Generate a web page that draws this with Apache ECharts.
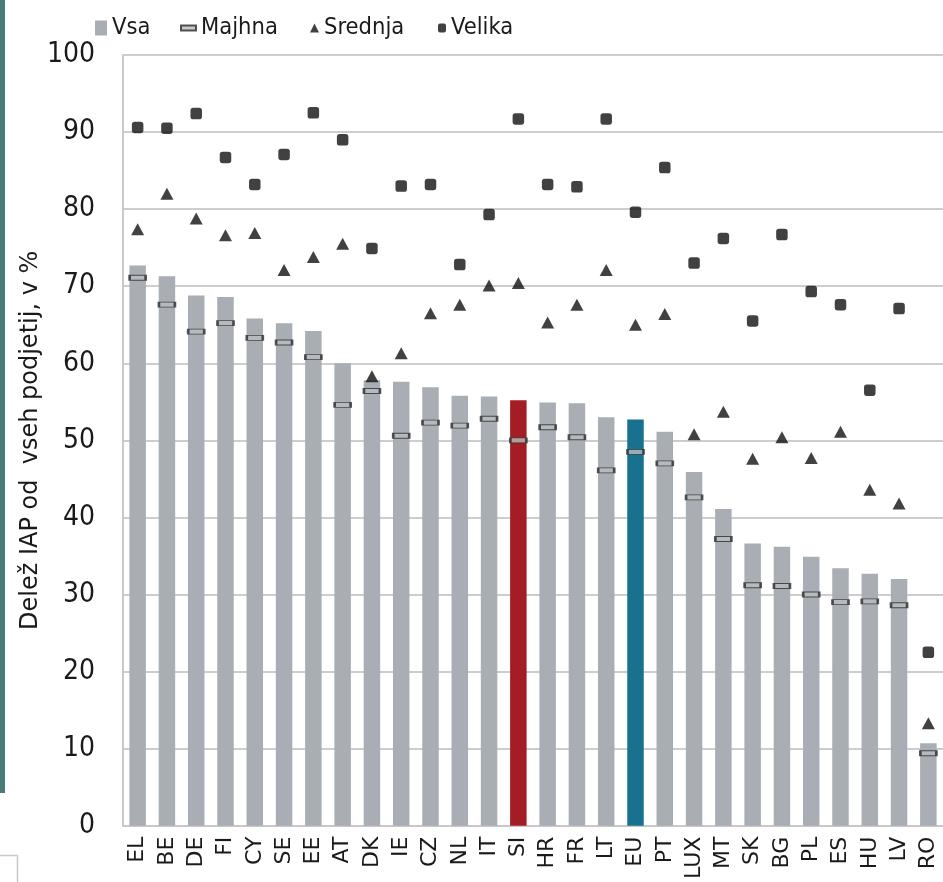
<!DOCTYPE html>
<html>
<head>
<meta charset="utf-8">
<script src="https://cdn.jsdelivr.net/npm/echarts@6/dist/echarts.min.js"></script>
<style>html,body{margin:0;padding:0;background:#fff;}#c{width:943px;height:882px;}</style>
</head>
<body>
<div id="c"></div>
<script>
const categories = ['EL','BE','DE','FI','CY','SE','EE','AT','DK','IE','CZ','NL','IT','SI','HR','FR','LT','EU','PT','LUX','MT','SK','BG','PL','ES','HU','LV','RO'];
const vsa     = [72.7,71.3,68.8,68.6,65.8,65.2,64.2,60.0,57.8,57.6,56.9,55.8,55.7,55.2,54.9,54.8,53.0,52.7,51.1,45.9,41.1,36.6,36.2,34.9,33.4,32.7,32.0,10.7];
const majhna  = [71.1,67.6,64.1,65.2,63.3,62.7,60.8,54.6,56.4,50.6,52.3,51.9,52.8,50.0,51.7,50.4,46.1,48.5,47.0,42.6,37.2,31.2,31.1,30.0,29.0,29.1,28.6,9.4];
const srednja = [77.4,82.0,78.8,76.6,76.9,72.1,73.8,75.5,58.3,61.3,66.5,67.6,70.1,70.4,65.3,67.6,72.1,65.0,66.4,50.8,53.7,47.6,50.4,47.7,51.1,43.6,41.8,13.3];
const velika  = [90.6,90.5,92.4,86.7,83.2,87.1,92.5,89.0,74.9,83.0,83.2,72.8,79.3,91.7,83.2,82.9,91.7,79.6,85.4,73.0,76.2,65.5,76.7,69.3,67.6,56.5,67.1,22.5];
const yTicks = {min: 0, max: 100, interval: 10};
const highlight = {SI: '#a21e24', EU: '#17718f'};

const chart = echarts.init(document.getElementById('c'));
const NARROW = "'Liberation Sans Narrow', 'DejaVu Sans Condensed', 'Open Sans', sans-serif";
const WIDE = "'DejaVu Sans', 'Open Sans', sans-serif";
const barData = vsa.map((v, i) => highlight[categories[i]] ? {value: v, itemStyle: {color: highlight[categories[i]]}} : v);
const legendText = {fontFamily: NARROW, fontSize: 23.5, color: '#1a1a1a'};
const legendBase = {top: 16, padding: 0, itemGap: 0, textStyle: legendText};

chart.setOption({
  animation: false,
  graphic: [
    {type: 'rect', shape: {x: 0, y: 0, width: 5, height: 793}, style: {fill: '#4b7b77'}},
    {type: 'polyline', shape: {points: [[0, 855.5], [17.5, 855.5], [17.5, 882]]}, style: {stroke: '#c8c8c8', lineWidth: 1.5, fill: null}}
  ],
  legend: [
    Object.assign({data: [{name: 'Vsa', icon: 'rect'}], left: 95, itemWidth: 12, itemHeight: 15}, legendBase),
    Object.assign({data: [{name: 'Majhna', icon: 'rect'}], left: 180, itemWidth: 15, itemHeight: 5}, legendBase),
    Object.assign({data: [{name: 'Srednja', icon: 'triangle'}], left: 310, itemWidth: 9, itemHeight: 9}, legendBase),
    Object.assign({data: [{name: 'Velika', icon: 'roundRect'}], left: 438, itemWidth: 8, itemHeight: 9}, legendBase)
  ],
  grid: {left: 123, top: 55, width: 827, bottom: 55, containLabel: false},
  xAxis: {
    type: 'category',
    data: categories,
    axisLine: {lineStyle: {color: '#c8c8c8', width: 2}},
    axisTick: {show: false},
    axisLabel: {rotate: 90, interval: 0, margin: 11, fontFamily: WIDE, fontSize: 22, color: '#1a1a1a'}
  },
  yAxis: {
    type: 'value',
    min: yTicks.min, max: yTicks.max, interval: yTicks.interval,
    name: 'Delež IAP od  vseh podjetij, v %',
    nameLocation: 'middle',
    nameGap: 80,
    nameMoveOverlap: false,
    nameTextStyle: {fontFamily: WIDE, fontSize: 24, color: '#1a1a1a'},
    axisLine: {show: true, lineStyle: {color: '#c8c8c8', width: 2}},
    axisTick: {show: false},
    axisLabel: {margin: 28, fontFamily: NARROW, fontSize: 28, color: '#1a1a1a'},
    splitLine: {lineStyle: {color: '#cdcdcd', width: 2}}
  },
  series: [
    {name: 'Vsa', type: 'bar', data: barData, barWidth: 16.5, itemStyle: {color: '#a8aeb3'}, z: 2},
    {name: 'Majhna', type: 'scatter', data: majhna, symbol: 'rect', symbolSize: [16, 5],
      itemStyle: {color: '#b9bcbf', borderColor: '#2b2b2b', borderWidth: 1.5}, z: 5},
    {name: 'Srednja', type: 'scatter', data: srednja, symbol: 'triangle', symbolSize: [13, 12],
      itemStyle: {color: '#111'}, z: 5},
    {name: 'Velika', type: 'scatter', data: velika, symbol: 'roundRect', symbolSize: 11.5,
      itemStyle: {color: '#111'}, z: 5}
  ]
});
</script>
</body>
</html>
